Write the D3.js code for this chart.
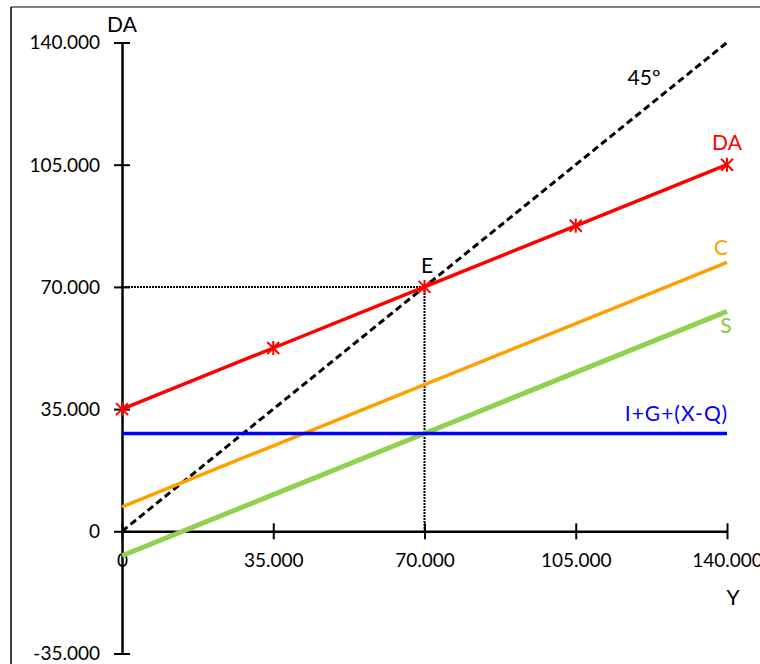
<!DOCTYPE html>
<html>
<head>
<meta charset="utf-8">
<script src="https://cdn.jsdelivr.net/npm/d3@7"></script>
<style>
  html, body { margin: 0; padding: 0; background: #fff; }
  svg { display: block; }
  text { font-family: Lato, "Open Sans", sans-serif; }
</style>
</head>
<body>
<svg id="chart" width="760" height="664"></svg>
<script>
// Renta (Y) y sus componentes de demanda
const incomeY        = [0, 35000, 70000, 105000, 140000];
const line45         = [0, 35000, 70000, 105000, 140000];
const demandDA       = [35000, 52500, 70000, 87500, 105000];
const consumptionC   = [7000, 24500, 42000, 59500, 77000];
const savingS        = [-7000, 10500, 28000, 45500, 63000];
const autonomousIGXQ = [28000, 28000, 28000, 28000, 28000];
const equilibrium    = { y: 70000, da: 70000 };

const xTicks = [0, 35000, 70000, 105000, 140000];
const yTicks = [-35000, 0, 35000, 70000, 105000, 140000];

const svg = d3.select("#chart");

const x = d3.scaleLinear().domain([0, 140000]).range([122, 727]);
const y = d3.scaleLinear().domain([-35000, 140000]).range([653.5, 42.5]);

const esLocale = d3.formatLocale({ decimal: ",", thousands: ".", grouping: [3], currency: ["", " €"], minus: "-" });
const fmt = esLocale.format(",");

// Marco exterior
svg.append("line").attr("x1", 11).attr("x2", 760).attr("y1", 7).attr("y2", 7)
  .attr("stroke", "#808080").attr("stroke-width", 2);
svg.append("line").attr("x1", 11).attr("x2", 11).attr("y1", 7).attr("y2", 664)
  .attr("stroke", "#000").attr("stroke-width", 1.5);

// Ejes
const yAxis = svg.append("g")
  .attr("transform", `translate(${x(0)},0)`)
  .call(d3.axisLeft(y).tickValues(yTicks).tickFormat(fmt).tickSizeInner(8).tickSizeOuter(0).tickPadding(14));
const xAxis = svg.append("g")
  .attr("transform", `translate(0,${y(0)})`)
  .call(d3.axisBottom(x).tickValues(xTicks).tickFormat(d => d === 0 ? "0" : fmt(d)).tickSizeInner(8).tickSizeOuter(0).tickPadding(16));

[yAxis, xAxis].forEach(g => {
  g.select(".domain").attr("stroke", "#000").attr("stroke-width", 2.5);
  g.selectAll(".tick line").attr("stroke", "#000").attr("stroke-width", 2);
  g.selectAll(".tick text").attr("fill", "#000").style("font-size", "19px").style("font-family", "Lato, sans-serif");
});
// Las marcas cruzan el eje a ambos lados
yAxis.selectAll(".tick line").attr("x1", -8).attr("x2", 8);
xAxis.selectAll(".tick line").attr("y1", -8).attr("y2", 8);
yAxis.selectAll(".tick text").attr("x", -22).attr("dy", "0.34em");
xAxis.selectAll(".tick text").attr("y", 22);

// Líneas de referencia del equilibrio
const guides = svg.append("g").attr("stroke", "#000").attr("stroke-width", 2)
  .attr("stroke-dasharray", "2,1").attr("fill", "none");
guides.append("line")
  .attr("x1", x(0)).attr("x2", x(equilibrium.y))
  .attr("y1", y(equilibrium.da)).attr("y2", y(equilibrium.da));
guides.append("line")
  .attr("x1", x(equilibrium.y)).attr("x2", x(equilibrium.y))
  .attr("y1", y(equilibrium.da)).attr("y2", y(0));

const lineGen = vals => d3.line()
  .x((d, i) => x(incomeY[i]))
  .y(d => y(d))(vals);

// Recta de 45º
svg.append("path").attr("d", lineGen(line45))
  .attr("fill", "none").attr("stroke", "#000").attr("stroke-width", 3)
  .attr("stroke-dasharray", "7,4");

// Ahorro S
svg.append("path").attr("d", lineGen(savingS))
  .attr("fill", "none").attr("stroke", "#92D050").attr("stroke-width", 5);

// Consumo C
svg.append("path").attr("d", lineGen(consumptionC))
  .attr("fill", "none").attr("stroke", "#FF9F00").attr("stroke-width", 3.5);

// Gasto autónomo I+G+(X-Q)
svg.append("path").attr("d", lineGen(autonomousIGXQ))
  .attr("fill", "none").attr("stroke", "#0000FF").attr("stroke-width", 3.5);

// Demanda agregada DA
svg.append("path").attr("d", lineGen(demandDA))
  .attr("fill", "none").attr("stroke", "#FF0000").attr("stroke-width", 3.5);

const star = 6;
svg.append("g").selectAll("path").data(demandDA).join("path")
  .attr("transform", (d, i) => `translate(${x(incomeY[i])},${y(d)})`)
  .attr("d", `M${-star},${-star}L${star},${star}M${-star},${star}L${star},${-star}M0,${-star - 1}L0,${star + 1}`)
  .attr("stroke", "#FF0000").attr("stroke-width", 2).attr("fill", "none");

// Etiquetas
const label = (txt, px, py, color, anchor, size) =>
  svg.append("text").text(txt).attr("x", px).attr("y", py)
    .attr("fill", color).attr("text-anchor", anchor).style("font-size", size + "px");

label("DA", 122, 32, "#000", "middle", 21);
label("Y", 733, 605, "#000", "middle", 21);
label("45º", 644, 85, "#000", "middle", 21);
label("DA", 727, 150, "#FF0000", "middle", 21);
label("C", 721, 255, "#FF9F00", "middle", 21);
label("S", 726, 333, "#8CC63F", "middle", 21);
label("I+G+(X-Q)", 728, 421, "#0000FF", "end", 21).style("letter-spacing", "1px");
label("E", 427, 273, "#000", "middle", 21);
</script>
</body>
</html>
